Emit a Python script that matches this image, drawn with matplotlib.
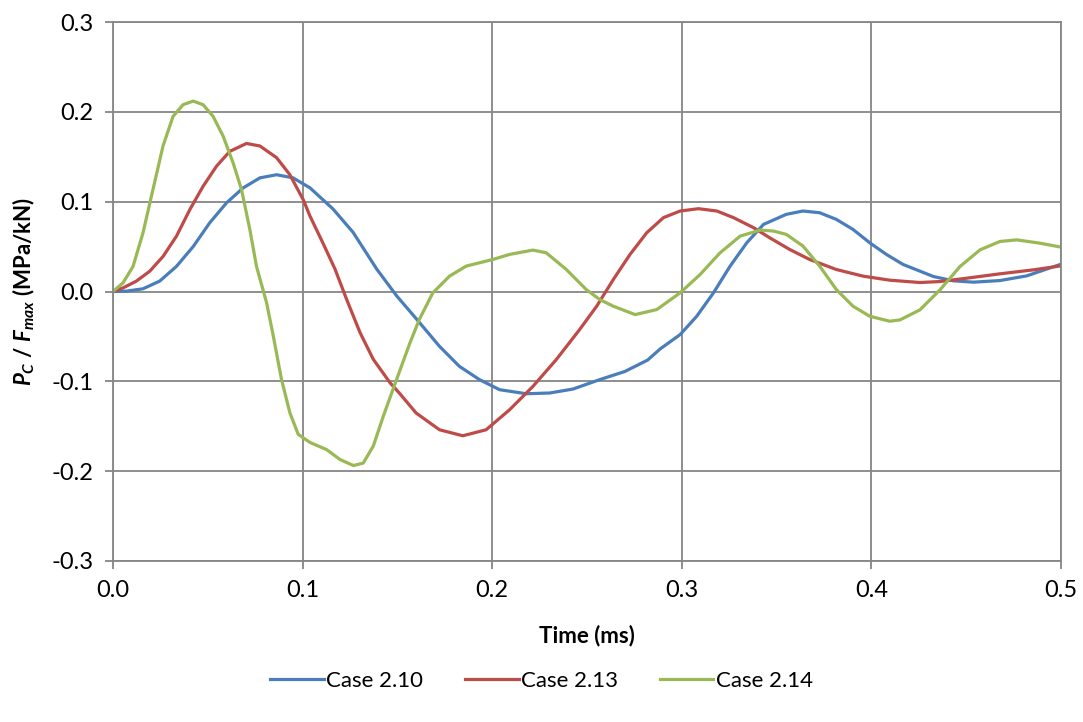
import numpy as np
import matplotlib.pyplot as plt

plt.rcParams['font.family'] = ['Lato', 'DejaVu Sans']
plt.rcParams['mathtext.fontset'] = 'custom'
plt.rcParams['mathtext.it'] = 'Lato:italic:bold'
plt.rcParams['mathtext.rm'] = 'Lato:bold'
plt.rcParams['mathtext.bf'] = 'Lato:bold'

# Case 2.10 (blue)
t_210 = [0.0, 0.007, 0.0158, 0.0246, 0.0335, 0.0423, 0.051, 0.0599, 0.0687, 0.0775,
         0.0863, 0.095, 0.1039, 0.116, 0.1266, 0.1391, 0.1496, 0.1602, 0.1722,
         0.1827, 0.1933, 0.2039, 0.218, 0.2303, 0.2426, 0.2567, 0.27, 0.282,
         0.2886, 0.2991, 0.3079, 0.3167, 0.3255, 0.3343, 0.3431, 0.3551, 0.3639,
         0.3727, 0.3815, 0.3903, 0.3991, 0.4079, 0.4167, 0.4239, 0.4327, 0.4432,
         0.4538, 0.4678, 0.4819, 0.5]
v_210 = [0.0, 0.0004, 0.003, 0.0115, 0.028, 0.050, 0.0764, 0.0987, 0.1154, 0.1265,
         0.130, 0.1265, 0.1154, 0.092, 0.066, 0.025, -0.0048, -0.0309, -0.061,
         -0.0833, -0.0981, -0.1093, -0.1138, -0.113, -0.1086, -0.0981, -0.089, -0.0763,
         -0.0639, -0.048, -0.0275, -0.0015, 0.0283, 0.0543, 0.0747, 0.0859, 0.0896,
         0.0877, 0.0803, 0.0691, 0.0543, 0.0413, 0.0301, 0.0241, 0.0167, 0.0119,
         0.0104, 0.0122, 0.0174, 0.0304]

# Case 2.13 (red)
t_213 = [0.0, 0.0053, 0.0123, 0.0194, 0.0264, 0.0335, 0.0405, 0.0475, 0.0546, 0.0616,
         0.0704, 0.0775, 0.0863, 0.0933, 0.1004, 0.1039, 0.1105, 0.1171, 0.1232,
         0.1303, 0.1373, 0.1461, 0.151, 0.1599, 0.1722, 0.1845, 0.1968, 0.2092,
         0.2215, 0.2338, 0.2461, 0.2551, 0.2639, 0.2727, 0.2815, 0.2903, 0.2991,
         0.3088, 0.3185, 0.3273, 0.3379, 0.3463, 0.3569, 0.3674, 0.3815, 0.3956,
         0.4097, 0.4256, 0.4362, 0.4502, 0.4678, 0.4854, 0.5]
v_213 = [0.0, 0.004, 0.0115, 0.0226, 0.039, 0.0616, 0.091, 0.117, 0.1395, 0.156,
         0.1648, 0.162, 0.149, 0.130, 0.102, 0.084, 0.055, 0.025, -0.0086,
         -0.0457, -0.0755, -0.1015, -0.113, -0.1353, -0.1539, -0.1606, -0.1539, -0.1316,
         -0.1056, -0.0758, -0.0424, -0.0164, 0.0134, 0.0413, 0.0654, 0.0822, 0.0896,
         0.0922, 0.0896, 0.0822, 0.071, 0.0599, 0.0468, 0.0357, 0.0245, 0.0171,
         0.0126, 0.010, 0.0111, 0.0148, 0.0197, 0.0241, 0.0286]

# Case 2.14 (green)
t_214 = [0.0, 0.0053, 0.0106, 0.0158, 0.0211, 0.0264, 0.0317, 0.037, 0.0423, 0.0475,
         0.0528, 0.0581, 0.0634, 0.0678, 0.0722, 0.0757, 0.081, 0.0845, 0.0889,
         0.0933, 0.0977, 0.1039, 0.1127, 0.1197, 0.1268, 0.132, 0.1373, 0.1426,
         0.1496, 0.1567, 0.1616, 0.1687, 0.1775, 0.1863, 0.2004, 0.2092, 0.2215,
         0.2285, 0.2391, 0.2496, 0.2567, 0.2639, 0.2754, 0.2868, 0.2991, 0.3097,
         0.3202, 0.3308, 0.3414, 0.3484, 0.3551, 0.3639, 0.3727, 0.3815, 0.3903,
         0.3991, 0.4097, 0.4151, 0.4256, 0.4362, 0.4467, 0.4573, 0.4678, 0.4766,
         0.4889, 0.5]
v_214 = [0.0, 0.0096, 0.028, 0.065, 0.1135, 0.162, 0.195, 0.208, 0.212, 0.208,
         0.195, 0.173, 0.143, 0.1135, 0.069, 0.028, -0.0123, -0.049, -0.098,
         -0.135, -0.159, -0.168, -0.176, -0.187, -0.1937, -0.191, -0.172, -0.1387,
         -0.0978, -0.0569, -0.031, -0.0015, 0.0171, 0.0283, 0.0357, 0.0413, 0.0461,
         0.0431, 0.0245, 0.0022, -0.0089, -0.0164, -0.0257, -0.0201, -0.0015, 0.019,
         0.0431, 0.0617, 0.0684, 0.0673, 0.0636, 0.0506, 0.0283, 0.0022, -0.0164,
         -0.0275, -0.0331, -0.0316, -0.0204, 0.0019, 0.0278, 0.0464, 0.0557, 0.0575,
         0.0538, 0.0494]

x_ticks = [0.0, 0.1, 0.2, 0.3, 0.4, 0.5]
y_ticks = [-0.3, -0.2, -0.1, 0.0, 0.1, 0.2, 0.3]

grid_col = "#868686"
lw = 2.3

fig = plt.figure(figsize=(10.83, 7.22), dpi=100)
ax = fig.add_axes([0.1043, 0.223, 0.8754, 0.7465])

ax.plot(t_210, v_210, color="#4A7EBB", lw=lw, label="Case 2.10", solid_joinstyle="round")
ax.plot(t_213, v_213, color="#BE4B48", lw=lw, label="Case 2.13", solid_joinstyle="round")
ax.plot(t_214, v_214, color="#98B954", lw=lw, label="Case 2.14", solid_joinstyle="round")

ax.set_xlim(0, 0.5)
ax.set_ylim(-0.3, 0.3)
ax.set_xticks(x_ticks)
ax.set_yticks(y_ticks)
ax.set_xticklabels(["%.1f" % v for v in x_ticks])
ax.set_yticklabels(["%.1f" % v for v in y_ticks])
ax.grid(True, color=grid_col, lw=1.3)
ax.set_axisbelow(True)
for s in ax.spines.values():
    s.set_color(grid_col)
    s.set_linewidth(1.3)
ax.tick_params(direction="out", length=6, width=1.3, color=grid_col,
               labelsize=17, pad=8)

ax.set_xlabel("Time (ms)", fontsize=16, fontweight="bold", labelpad=17)
ax.set_ylabel(r"$P_C$ / $F_{max}$ (MPa/kN)", fontsize=16, fontweight="bold", labelpad=10)

handles, labels = ax.get_legend_handles_labels()
leg = fig.legend(handles, labels, loc="center", bbox_to_anchor=(0.5, 1 - 681 / 722),
                 ncol=3, frameon=False, fontsize=16, handlelength=2.4,
                 handletextpad=0.1, columnspacing=1.9)

plt.savefig("out.png", dpi=100, facecolor="white")
